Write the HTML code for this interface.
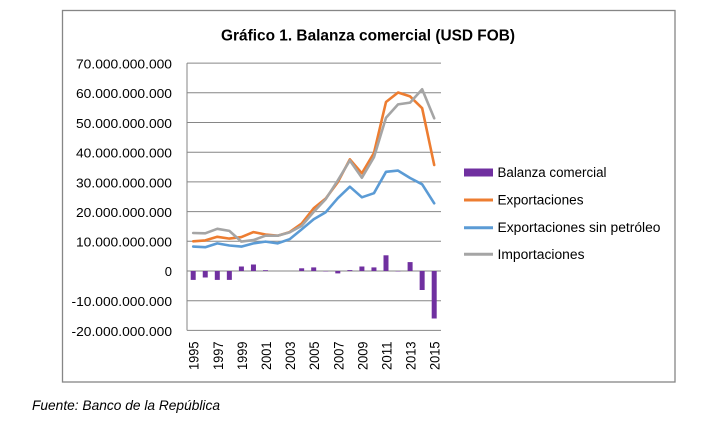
<!DOCTYPE html>
<html>
<head>
<meta charset="utf-8">
<style>
  html,body{margin:0;padding:0;background:#fff;}
  svg{display:block;}
  text{font-family:"Liberation Sans",Arial,sans-serif;fill:#000;}
</style>
</head>
<body>
<svg width="726" height="435" viewBox="0 0 726 435" xmlns="http://www.w3.org/2000/svg">
  <rect x="0" y="0" width="726" height="435" fill="#fff"/>
  <!-- chart frame -->
  <rect x="62.5" y="10.5" width="612.5" height="371.5" fill="#fff" stroke="#868686" stroke-width="1.3"/>

  <!-- title -->
  <text x="221" y="40.5" font-size="16" font-weight="bold" textLength="294" lengthAdjust="spacingAndGlyphs">Gráfico 1. Balanza comercial (USD FOB)</text>

  <!-- gridlines -->
  <g stroke="#868686" stroke-width="1">
    <line x1="187" y1="63.1" x2="441" y2="63.1"/>
    <line x1="187" y1="92.8" x2="441" y2="92.8"/>
    <line x1="187" y1="122.5" x2="441" y2="122.5"/>
    <line x1="187" y1="152.2" x2="441" y2="152.2"/>
    <line x1="187" y1="181.9" x2="441" y2="181.9"/>
    <line x1="187" y1="211.6" x2="441" y2="211.6"/>
    <line x1="187" y1="241.3" x2="441" y2="241.3"/>
    <line x1="187" y1="271" x2="441" y2="271"/>
    <line x1="187" y1="300.7" x2="441" y2="300.7"/>
    <line x1="187" y1="330.4" x2="441" y2="330.4"/>
    <line x1="187" y1="63.1" x2="187" y2="330.4"/>
  </g>

  <!-- y labels -->
  <g font-size="13" text-anchor="end">
    <text x="172" y="68.5" textLength="96" lengthAdjust="spacingAndGlyphs">70.000.000.000</text>
    <text x="172" y="98.2" textLength="96" lengthAdjust="spacingAndGlyphs">60.000.000.000</text>
    <text x="172" y="127.9" textLength="96" lengthAdjust="spacingAndGlyphs">50.000.000.000</text>
    <text x="172" y="157.6" textLength="96" lengthAdjust="spacingAndGlyphs">40.000.000.000</text>
    <text x="172" y="187.3" textLength="96" lengthAdjust="spacingAndGlyphs">30.000.000.000</text>
    <text x="172" y="217" textLength="96" lengthAdjust="spacingAndGlyphs">20.000.000.000</text>
    <text x="172" y="246.7" textLength="96" lengthAdjust="spacingAndGlyphs">10.000.000.000</text>
    <text x="172" y="275.9">0</text>
    <text x="172" y="306.1" textLength="100.5" lengthAdjust="spacingAndGlyphs">-10.000.000.000</text>
    <text x="172" y="335.8" textLength="100.5" lengthAdjust="spacingAndGlyphs">-20.000.000.000</text>
  </g>

  <!-- bars: Balanza comercial -->
  <g fill="#7030A0">
    <rect x="190.7" y="271" width="5" height="8.9"/>
    <rect x="202.75" y="271" width="5" height="6.5"/>
    <rect x="214.8" y="271" width="5" height="8.9"/>
    <rect x="226.85" y="271" width="5" height="8.9"/>
    <rect x="238.9" y="266.5" width="5" height="4.5"/>
    <rect x="250.95" y="264.5" width="5" height="6.5"/>
    <rect x="263" y="270.2" width="5" height="0.8"/>
    <rect x="299.15" y="268.3" width="5" height="2.7"/>
    <rect x="311.2" y="267.4" width="5" height="3.6"/>
    <rect x="323.25" y="271" width="5" height="0.4"/>
    <rect x="335.3" y="271" width="5" height="2.4"/>
    <rect x="347.35" y="270.1" width="5" height="0.9"/>
    <rect x="359.4" y="266.5" width="5" height="4.5"/>
    <rect x="371.45" y="267.4" width="5" height="3.6"/>
    <rect x="383.5" y="255.3" width="5" height="15.7"/>
    <rect x="395.55" y="271" width="5" height="0.4"/>
    <rect x="407.6" y="262.1" width="5" height="8.9"/>
    <rect x="419.65" y="271" width="5" height="19"/>
    <rect x="431.7" y="271" width="5" height="47.5"/>
  </g>

  <!-- lines -->
  <g fill="none" stroke-width="2.6" stroke-linejoin="round" stroke-linecap="round">
    <!-- Exportaciones sin petróleo -->
    <polyline stroke="#5B9BD5" points="193.2,246.6 205.25,247.2 217.3,243.4 229.35,245.5 241.4,246.6 253.45,243.4 265.5,241.6 277.55,243.4 289.6,239.2 301.65,229.4 313.7,219.3 325.75,212.2 337.8,198.2 349.85,186.7 361.9,197.3 373.95,193.2 386,171.8 398.05,170.6 410.1,178 422.15,184.3 434.2,203.3"/>
    <!-- Exportaciones -->
    <polyline stroke="#ED7D31" points="193.2,241.3 205.25,240.4 217.3,236.8 229.35,238.6 241.4,237.1 253.45,232.1 265.5,234.5 277.55,235.7 289.6,232.1 301.65,223.5 313.7,208.3 325.75,198.5 337.8,182.2 349.85,159.3 361.9,173.3 373.95,153.1 386,102 398.05,92.5 410.1,96.4 422.15,108.2 434.2,165"/>
    <!-- Importaciones -->
    <polyline stroke="#A5A5A5" points="193.2,233 205.25,233.3 217.3,228.8 229.35,230.9 241.4,241.6 253.45,240.1 265.5,235.7 277.55,235.7 289.6,232.4 301.65,225.9 313.7,211.9 325.75,199.1 337.8,180.4 349.85,160.5 361.9,177.7 373.95,157.2 386,117.7 398.05,104.4 410.1,102.6 422.15,89.2 434.2,118.3"/>
  </g>

  <!-- x labels -->
  <g font-size="14" text-anchor="end">
    <text transform="translate(193.7,341.5) rotate(-90)" dy="0.36em" textLength="28.5" lengthAdjust="spacingAndGlyphs">1995</text>
    <text transform="translate(217.8,341.5) rotate(-90)" dy="0.36em" textLength="28.5" lengthAdjust="spacingAndGlyphs">1997</text>
    <text transform="translate(241.9,341.5) rotate(-90)" dy="0.36em" textLength="28.5" lengthAdjust="spacingAndGlyphs">1999</text>
    <text transform="translate(266,341.5) rotate(-90)" dy="0.36em" textLength="28.5" lengthAdjust="spacingAndGlyphs">2001</text>
    <text transform="translate(290.1,341.5) rotate(-90)" dy="0.36em" textLength="28.5" lengthAdjust="spacingAndGlyphs">2003</text>
    <text transform="translate(314.2,341.5) rotate(-90)" dy="0.36em" textLength="28.5" lengthAdjust="spacingAndGlyphs">2005</text>
    <text transform="translate(338.3,341.5) rotate(-90)" dy="0.36em" textLength="28.5" lengthAdjust="spacingAndGlyphs">2007</text>
    <text transform="translate(362.4,341.5) rotate(-90)" dy="0.36em" textLength="28.5" lengthAdjust="spacingAndGlyphs">2009</text>
    <text transform="translate(386.5,341.5) rotate(-90)" dy="0.36em" textLength="28.5" lengthAdjust="spacingAndGlyphs">2011</text>
    <text transform="translate(410.6,341.5) rotate(-90)" dy="0.36em" textLength="28.5" lengthAdjust="spacingAndGlyphs">2013</text>
    <text transform="translate(434.7,341.5) rotate(-90)" dy="0.36em" textLength="28.5" lengthAdjust="spacingAndGlyphs">2015</text>
  </g>

  <!-- legend -->
  <rect x="464" y="168.5" width="29" height="8" fill="#7030A0"/>
  <line x1="464" y1="200" x2="493" y2="200" stroke="#ED7D31" stroke-width="3"/>
  <line x1="464" y1="227.7" x2="493" y2="227.7" stroke="#5B9BD5" stroke-width="3"/>
  <line x1="464" y1="254.3" x2="493" y2="254.3" stroke="#A5A5A5" stroke-width="3"/>
  <g font-size="13.5">
    <text x="497.5" y="177" textLength="109" lengthAdjust="spacingAndGlyphs">Balanza comercial</text>
    <text x="497.5" y="204.5" textLength="86" lengthAdjust="spacingAndGlyphs">Exportaciones</text>
    <text x="497.5" y="232.2" textLength="163" lengthAdjust="spacingAndGlyphs">Exportaciones sin petróleo</text>
    <text x="497.5" y="258.8" textLength="87" lengthAdjust="spacingAndGlyphs">Importaciones</text>
  </g>

  <!-- footer -->
  <text x="32" y="410" font-size="14" font-style="italic" textLength="188" lengthAdjust="spacingAndGlyphs">Fuente: Banco de la República</text>
</svg>
</body>
</html>
